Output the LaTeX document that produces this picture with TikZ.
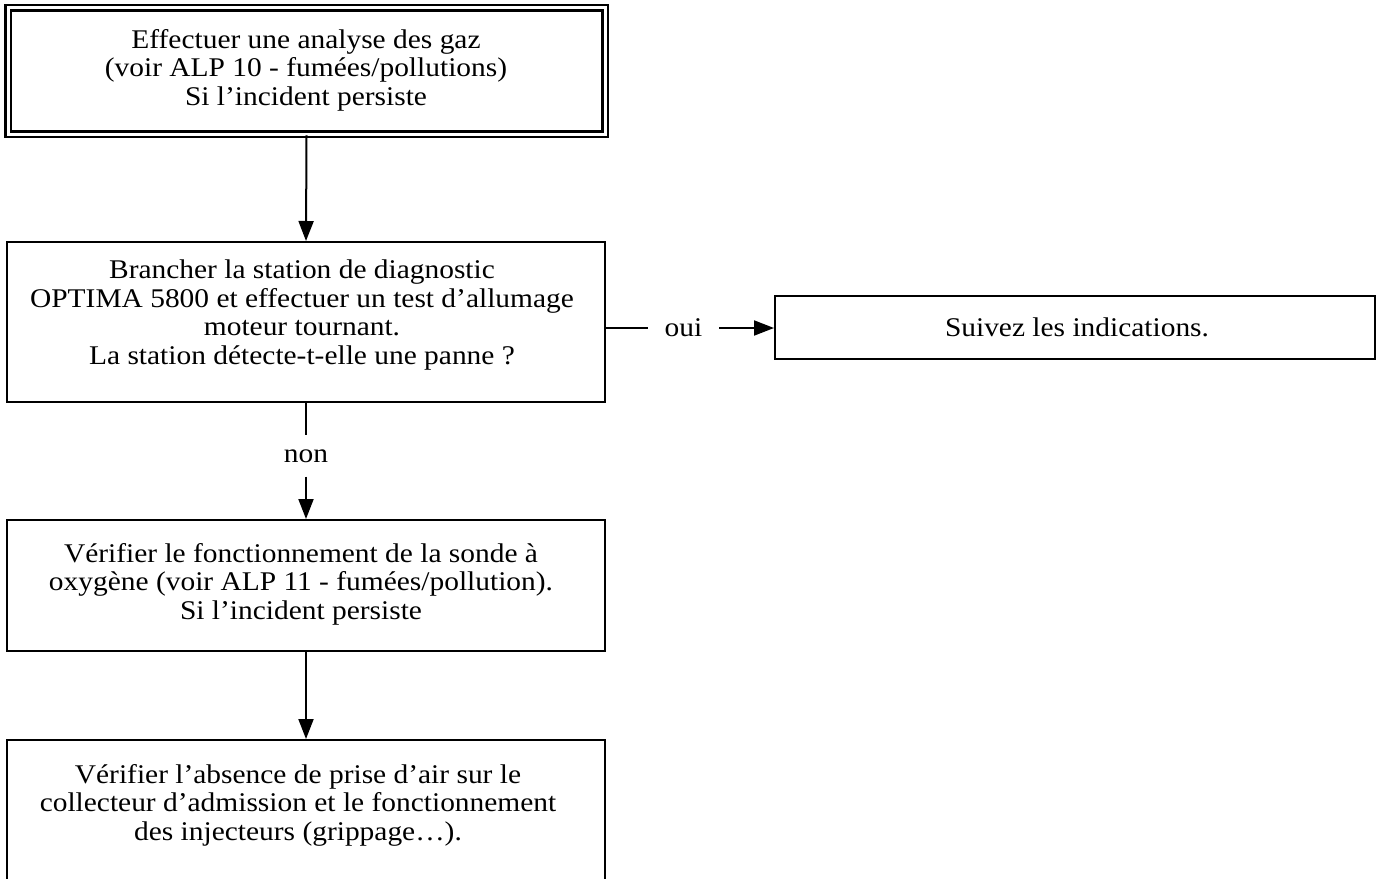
\documentclass[tikz,border=0pt]{standalone}
\usepackage{fontspec}
\setmainfont[FakeStretch=1.09]{Liberation Serif}
\usetikzlibrary{arrows.meta}
\tikzset{
  box/.style={draw=black, line width=2pt, rectangle, inner sep=0pt},
  dbox/.style={draw=black, line width=2.5pt, double=white, double distance=3pt, rectangle, inner sep=0pt},
  txt/.style={align=center, inner sep=0pt, font=\fontsize{27}{28.5}\selectfont},
  conn/.style={line width=2pt},
  arr/.style={line width=2pt, -{Triangle[length=20pt,width=15pt]}},
}
\begin{document}
\begin{tikzpicture}[x=1pt,y=-1pt]
\useasboundingbox (0,0) rectangle (1381,878);
\clip (0,0) rectangle (1381,878);
% boxes
\node[dbox, minimum width=597pt, minimum height=126.5pt] (n1) at (306.5,70.75) {};
\node[txt] (t1) at (306,70) {Effectuer une analyse des gaz\\(voir ALP 10 - fumées/pollutions)\\Si l’incident persiste};
\node[box, minimum width=598pt, minimum height=160pt] (n2) at (306,322) {};
\node[txt] (t2) at (302,315) {Brancher la station de diagnostic\\OPTIMA 5800 et effectuer un test d’allumage\\moteur tournant.\\La station détecte-t-elle une panne ?};
\node[box, minimum width=598pt, minimum height=131pt] (n3) at (306,585.5) {};
\node[txt] (t3) at (301,584) {Vérifier le fonctionnement de la sonde à\\oxygène (voir ALP 11 - fumées/pollution).\\Si l’incident persiste};
\node[box, minimum width=598pt, minimum height=200pt, anchor=north] (n4) at (306,739) {};
\node[txt] (t4) at (298,805) {Vérifier l’absence de prise d’air sur le\\collecteur d’admission et le fonctionnement\\des injecteurs (grippage…).};
\node[box, minimum width=600pt, minimum height=63pt] (n5) at (1075,327.5) {};
\node[txt] (t5) at (1077,327) {Suivez les indications.};
% labels
\node[txt, minimum height=41pt] (non) at (306,456) {non};
\node[txt, minimum width=71pt] (oui) at (683.5,328) {oui};
% connectors
\draw[arr] (n1.south) -- (n2.north);
\draw[conn] (n2.south) -- (non.north);
\draw[arr] (non.south) -- (n3.north);
\draw[arr] (n3.south) -- (n4.north);
\draw[conn] (n2.east |- oui.west) -- (oui.west);
\draw[arr] (oui.east) -- (n5.west |- oui.east);
\end{tikzpicture}
\end{document}
